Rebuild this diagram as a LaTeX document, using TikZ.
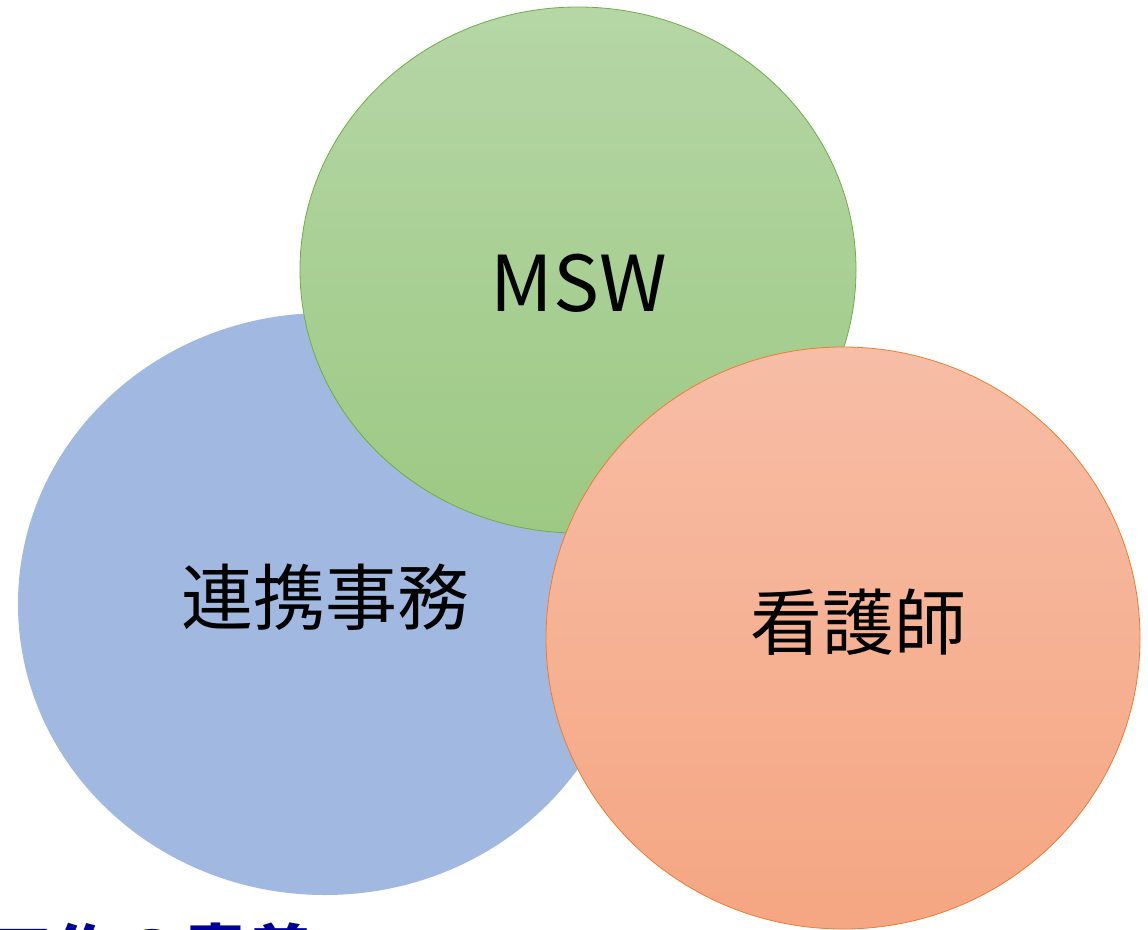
\documentclass[tikz,border=0pt]{standalone}
\usepackage{fontspec}
\newfontfamily\jp{Noto Sans CJK JP}
\usetikzlibrary{shapes.geometric}
\definecolor{blueF}{HTML}{A1B8E0}
\definecolor{greenT}{HTML}{B6D6A6}
\definecolor{greenB}{HTML}{9CC983}
\definecolor{greenL}{HTML}{70AD47}
\definecolor{orT}{HTML}{F7BDA6}
\definecolor{orB}{HTML}{F5A682}
\definecolor{orL}{HTML}{ED7D31}
\definecolor{navy}{HTML}{000099}
\tikzset{
  blob/.style={ellipse, inner sep=0pt, outer sep=0pt},
  lbl/.style={font=\jp\fontsize{72}{80}\selectfont, inner sep=0pt},
}
\begin{document}
\begin{tikzpicture}[x=1pt,y=-1pt]
\useasboundingbox (0,0) rectangle (1148,929);
\node[blob, fill=blueF, minimum width=614pt, minimum height=582pt] (renkei) at (325,604) {};
\node[blob, top color=greenT, bottom color=greenB, draw=greenL, line width=0.8pt, minimum width=556pt, minimum height=526pt] (msw) at (578,270) {};
\node[blob, top color=orT, bottom color=orB, draw=orL, line width=0.8pt, minimum width=594pt, minimum height=582pt] (kango) at (843,638) {};
\node[lbl, font=\jp\fontsize{77}{80}\selectfont] (tmsw) at (579,283) {MSW};
\node[lbl] (trenkei) at (325,597) {連携事務};
\node[lbl] (tkango) at (858,622) {看護師};
\node[font=\jp\bfseries\fontsize{65}{70}\selectfont, text=navy, anchor=base west, inner sep=0pt] (title) at (-12,978) {工作の意義};
\end{tikzpicture}
\end{document}
